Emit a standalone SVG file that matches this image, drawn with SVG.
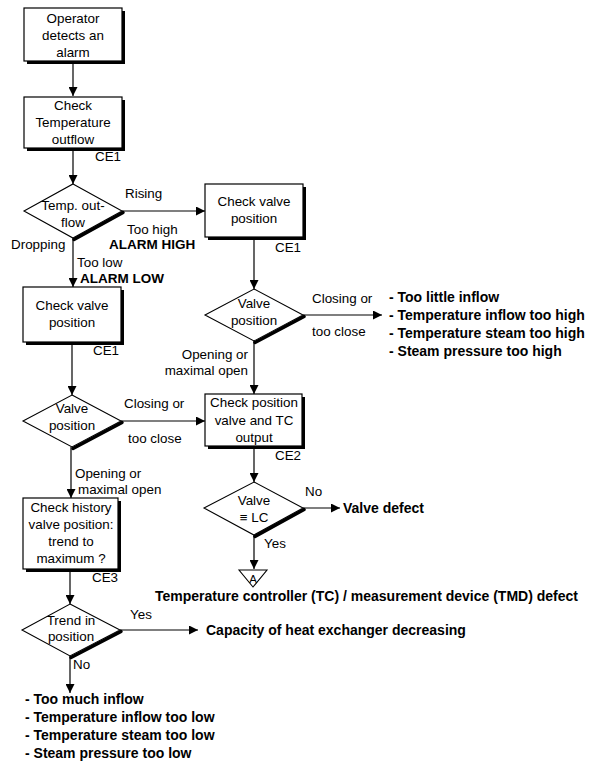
<svg xmlns="http://www.w3.org/2000/svg" width="592" height="762" viewBox="0 0 592 762">
  <style>
    text { font-family: "Liberation Sans", Arial, sans-serif; font-size: 13.4px; fill: #000; }
    .c { text-anchor: middle; }
    .e { text-anchor: end; }
    .b { font-weight: bold; font-size: 14px; }
    .alarm { font-weight: bold; font-size: 13.5px; }
    .box { fill: #fff; stroke: #000; stroke-width: 1.2; }
    .shadow { fill: #000; }
    .dia { fill: #fff; stroke: #000; stroke-width: 1.1; }
    .edge { stroke: #000; stroke-width: 3.5; stroke-linecap: round; }
    .wire { stroke: #000; stroke-width: 1.2; fill: none; marker-end: url(#arrow); }
  </style>
  <defs>
    <marker id="arrow" viewBox="0 0 10 10" refX="10" refY="5" markerUnits="userSpaceOnUse" markerWidth="10" markerHeight="9" orient="auto">
      <path d="M0,0 L10,5 L0,10 z" fill="#000"/>
    </marker>
  </defs>
  <rect width="592" height="762" fill="#fff"/>

  <!-- connectors -->
  <g id="connectors">
    <line class="wire" x1="73" y1="61" x2="73" y2="96"/>
    <line class="wire" x1="73" y1="148" x2="73" y2="184"/>
    <line class="wire" x1="122" y1="211" x2="205" y2="211"/>
    <line class="wire" x1="73" y1="238" x2="73" y2="287"/>
    <line class="wire" x1="254" y1="237" x2="254" y2="289"/>
    <line class="wire" x1="303" y1="315" x2="382" y2="315"/>
    <line class="wire" x1="72" y1="342" x2="72" y2="395"/>
    <line class="wire" x1="254" y1="341" x2="254" y2="394"/>
    <line class="wire" x1="121" y1="421" x2="205" y2="421"/>
    <line class="wire" x1="71" y1="447" x2="71" y2="498"/>
    <line class="wire" x1="254" y1="446" x2="254" y2="482"/>
    <line class="wire" x1="303" y1="508" x2="340" y2="508"/>
    <line class="wire" x1="254" y1="535" x2="254" y2="569"/>
    <line class="wire" x1="70" y1="569" x2="70" y2="604"/>
    <line class="wire" x1="120" y1="630" x2="198" y2="630"/>
    <line class="wire" x1="70" y1="656" x2="70" y2="693"/>
  </g>

  <!-- start -->
  <g id="start">
    <rect class="shadow" x="27" y="11" width="98" height="53"/>
    <rect class="box" x="24" y="8" width="98" height="53"/>
    <text class="c" x="73" y="23">Operator</text>
    <text class="c" x="73" y="40">detects an</text>
    <text class="c" x="73" y="57">alarm</text>
  </g>

  <g id="check-temp">
    <rect class="shadow" x="27" y="100" width="98" height="51"/>
    <rect class="box" x="24" y="97" width="98" height="51"/>
    <text class="c" x="73" y="110">Check</text>
    <text class="c" x="73" y="127">Temperature</text>
    <text class="c" x="73" y="144">outflow</text>
    <text x="95" y="161">CE1</text>
  </g>

  <g id="dec-temp">
    <line class="edge" x1="123" y1="212.5" x2="74" y2="239.5"/>
    <polygon class="dia" points="73,184 122,211 73,238 24,211"/>
    <text class="c" x="73" y="210">Temp. out-</text>
    <text class="c" x="73" y="227">flow</text>
    <text x="125" y="198">Rising</text>
    <text x="127" y="234">Too high</text>
    <text class="alarm" x="109" y="249">ALARM HIGH</text>
    <text x="11" y="249">Dropping</text>
    <text x="77" y="267">Too low</text>
    <text class="alarm" x="80" y="283">ALARM LOW</text>
  </g>

  <g id="check-valve-right">
    <rect class="shadow" x="208" y="187" width="98" height="53"/>
    <rect class="box" x="205" y="184" width="98" height="53"/>
    <text class="c" x="254" y="206">Check valve</text>
    <text class="c" x="254" y="223">position</text>
    <text x="275" y="252">CE1</text>
  </g>

  <g id="dec-valve-right">
    <line class="edge" x1="304" y1="316.5" x2="255" y2="342.5"/>
    <polygon class="dia" points="254,289 303,315 254,341 205,315"/>
    <text class="c" x="254" y="308">Valve</text>
    <text class="c" x="254" y="325">position</text>
    <text x="312" y="303">Closing or</text>
    <text x="312" y="336">too close</text>
    <text class="e" x="248" y="359">Opening or</text>
    <text class="e" x="248" y="375">maximal open</text>
  </g>

  <g id="causes-high">
    <text class="b" x="389" y="302">- Too little inflow</text>
    <text class="b" x="389" y="320">- Temperature inflow too high</text>
    <text class="b" x="389" y="338">- Temperature steam too high</text>
    <text class="b" x="389" y="356">- Steam pressure too high</text>
  </g>

  <g id="check-valve-left">
    <rect class="shadow" x="26" y="290" width="98" height="55"/>
    <rect class="box" x="23" y="287" width="98" height="55"/>
    <text class="c" x="72" y="310">Check valve</text>
    <text class="c" x="72" y="327">position</text>
    <text x="93" y="355">CE1</text>
  </g>

  <g id="dec-valve-left">
    <line class="edge" x1="122" y1="422.5" x2="73" y2="448.5"/>
    <polygon class="dia" points="72,395 121,421 72,447 23,421"/>
    <text class="c" x="72" y="413">Valve</text>
    <text class="c" x="72" y="430">position</text>
    <text x="124" y="408">Closing or</text>
    <text x="128" y="443">too close</text>
    <text x="75" y="478">Opening or</text>
    <text x="78" y="494">maximal open</text>
  </g>

  <g id="check-position-tc">
    <rect class="shadow" x="208" y="397" width="97" height="52"/>
    <rect class="box" x="205" y="394" width="97" height="52"/>
    <text class="c" x="254" y="407">Check position</text>
    <text class="c" x="254" y="425">valve and TC</text>
    <text class="c" x="254" y="442">output</text>
    <text x="275" y="460">CE2</text>
  </g>

  <g id="dec-valve-lc">
    <line class="edge" x1="304" y1="509.5" x2="255" y2="536.5"/>
    <polygon class="dia" points="254,482 303,508 254,535 204,508"/>
    <text class="c" x="254" y="505">Valve</text>
    <text class="c" x="254" y="522">≡ LC</text>
    <text x="305" y="496">No</text>
    <text x="264" y="548">Yes</text>
  </g>

  <g id="valve-defect">
    <text class="b" x="343" y="513">Valve defect</text>
  </g>

  <g id="connector-a">
    <polygon points="239,570 267,570 253,587" fill="#fff" stroke="#000" stroke-width="1.1"/>
    <text class="c" x="253" y="583" style="font-size:11.5px">A</text>
  </g>

  <g id="tc-defect">
    <text class="b" x="155" y="601">Temperature controller (TC) / measurement device (TMD) defect</text>
  </g>

  <g id="check-history">
    <rect class="shadow" x="26" y="501" width="95" height="71"/>
    <rect class="box" x="23" y="498" width="95" height="71"/>
    <text class="c" x="71" y="512">Check history</text>
    <text class="c" x="71" y="529">valve position:</text>
    <text class="c" x="71" y="546">trend to</text>
    <text class="c" x="71" y="563">maximum ?</text>
    <text x="92" y="582">CE3</text>
  </g>

  <g id="dec-trend">
    <line class="edge" x1="121" y1="631.5" x2="71" y2="657.5"/>
    <polygon class="dia" points="70,604 120,630 70,656 22,630"/>
    <text class="c" x="71" y="625">Trend in</text>
    <text class="c" x="71" y="641">position</text>
    <text x="130" y="619">Yes</text>
    <text x="73" y="669">No</text>
  </g>

  <g id="capacity">
    <text class="b" x="206" y="635">Capacity of heat exchanger decreasing</text>
  </g>

  <g id="causes-low">
    <text class="b" x="25" y="704">- Too much inflow</text>
    <text class="b" x="25" y="722">- Temperature inflow too low</text>
    <text class="b" x="25" y="740">- Temperature steam too low</text>
    <text class="b" x="25" y="758">- Steam pressure too low</text>
  </g>
</svg>
